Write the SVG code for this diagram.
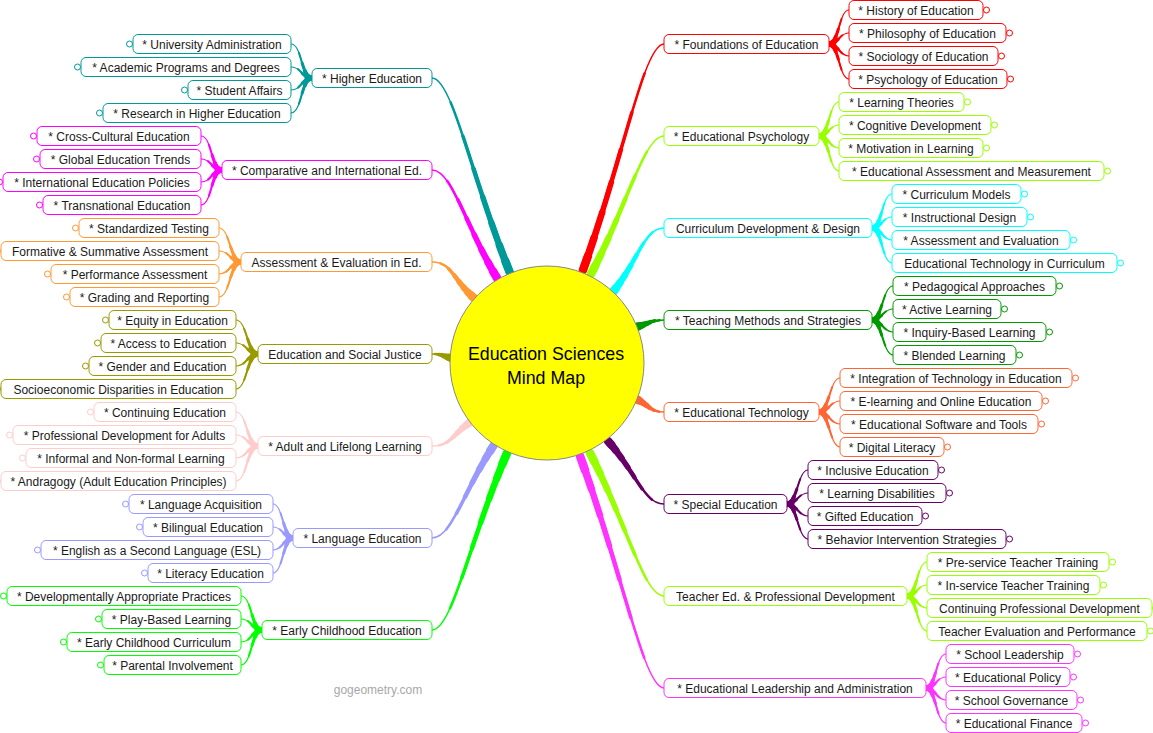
<svg xmlns="http://www.w3.org/2000/svg" width="1153" height="733" viewBox="0 0 1153 733">
<style>
.node rect{fill:#fff;stroke-width:1}
.node circle{fill:#fff;stroke-width:1}
text{font-family:"Liberation Sans",Arial,sans-serif;font-size:12px;fill:#1a1a1a;text-anchor:middle;stroke:none;transform:translateY(1px)}
#connectors use{fill:none;stroke-linecap:round}
.a1{stroke-width:1.5}.a2{stroke-width:2.5;stroke-dasharray:85 300}.a3{stroke-width:3.5;stroke-dasharray:68 300}.a4{stroke-width:4.5;stroke-dasharray:52 300}.a5{stroke-width:5.5;stroke-dasharray:38 300}.a6{stroke-width:6.5;stroke-dasharray:25 300}.a7{stroke-width:7.5;stroke-dasharray:14 300}.a8{stroke-width:8.5;stroke-dasharray:6 300}
.s1{stroke-width:1.2}.s2{stroke-width:2;stroke-dasharray:70 300}.s3{stroke-width:3;stroke-dasharray:45 300}.s4{stroke-width:4;stroke-dasharray:25 300}.s5{stroke-width:5;stroke-dasharray:10 300}
.teal{stroke:#009999}.mag{stroke:#ff00ff}.org{stroke:#ff9933}.olv{stroke:#999900}.pnk{stroke:#ffcccc}.lav{stroke:#9999ff}.grn{stroke:#00ff00}
.red{stroke:#ff0000}.chr{stroke:#99ff00}.cyn{stroke:#00ffff}.dgr{stroke:#009900}.orr{stroke:#ff6633}.pur{stroke:#660066}.lpk{stroke:#ff33ff}
</style>
<defs>
<path id="m1" pathLength="100" d="M583,270C623.5,157 644,44 664,44"/>
<path id="m2" pathLength="100" d="M591,274C627.5,205 644,136 664,136"/>
<path id="m3" pathLength="100" d="M613,292C638.5,260 644,228 664,228"/>
<path id="m4" pathLength="100" d="M636,327C650,323.5 650,320 664,320"/>
<path id="m5" pathLength="100" d="M636,399C650,405.5 650,412 664,412"/>
<path id="m6" pathLength="100" d="M608,441C636,472.5 644,504 664,504"/>
<path id="m7" pathLength="100" d="M590,453C627,524.5 644,596 664,596"/>
<path id="m8" pathLength="100" d="M580,456C622,572 644,688 664,688"/>
<path id="m9" pathLength="100" d="M510,273C471,175.5 452,78 432,78"/>
<path id="m10" pathLength="100" d="M497,278C464.5,224 452,170 432,170"/>
<path id="m11" pathLength="100" d="M474,298C453,280 452,262 432,262"/>
<path id="m12" pathLength="100" d="M452,358C442,356 442,354 432,354"/>
<path id="m13" pathLength="100" d="M472,421C452,433.5 452,446 432,446"/>
<path id="m14" pathLength="100" d="M494,445C463,491.5 452,538 432,538"/>
<path id="m15" pathLength="100" d="M507,453C469.5,541.5 452,630 432,630"/>
<path id="qf1" pathLength="100" d="M829,44C839,44 839,10 849,10"/>
<path id="qf2" pathLength="100" d="M829,44C839,44 839,33 849,33"/>
<path id="qf3" pathLength="100" d="M829,44C839,44 839,56 849,56"/>
<path id="qf4" pathLength="100" d="M829,44C839,44 839,79 849,79"/>
<path id="qp1" pathLength="100" d="M819,136C829,136 829,102 839,102"/>
<path id="qp2" pathLength="100" d="M819,136C829,136 829,125 839,125"/>
<path id="qp3" pathLength="100" d="M819,136C829,136 829,148 839,148"/>
<path id="qp4" pathLength="100" d="M819,136C829,136 829,171 839,171"/>
<path id="qc1" pathLength="100" d="M872,228C882,228 882,194 892,194"/>
<path id="qc2" pathLength="100" d="M872,228C882,228 882,217 892,217"/>
<path id="qc3" pathLength="100" d="M872,228C882,228 882,240 892,240"/>
<path id="qc4" pathLength="100" d="M872,228C882,228 882,263 892,263"/>
<path id="qt1" pathLength="100" d="M872,320C882,320 883,286 893,286"/>
<path id="qt2" pathLength="100" d="M872,320C882,320 883,309 893,309"/>
<path id="qt3" pathLength="100" d="M872,320C882,320 883,332 893,332"/>
<path id="qt4" pathLength="100" d="M872,320C882,320 883,355 893,355"/>
<path id="qe1" pathLength="100" d="M819,412C829,412 830,378 840,378"/>
<path id="qe2" pathLength="100" d="M819,412C829,412 830,401 840,401"/>
<path id="qe3" pathLength="100" d="M819,412C829,412 830,424 840,424"/>
<path id="qe4" pathLength="100" d="M819,412C829,412 830,447 840,447"/>
<path id="qx1" pathLength="100" d="M787,504C797,504 798,470 808,470"/>
<path id="qx2" pathLength="100" d="M787,504C797,504 798,493 808,493"/>
<path id="qx3" pathLength="100" d="M787,504C797,504 798,516 808,516"/>
<path id="qx4" pathLength="100" d="M787,504C797,504 798,539 808,539"/>
<path id="qr1" pathLength="100" d="M907,596C917,596 917,562 927,562"/>
<path id="qr2" pathLength="100" d="M907,596C917,596 917,585 927,585"/>
<path id="qr3" pathLength="100" d="M907,596C917,596 917,608 927,608"/>
<path id="qr4" pathLength="100" d="M907,596C917,596 917,631 927,631"/>
<path id="ql1" pathLength="100" d="M926,688C936,688 936,654 946,654"/>
<path id="ql2" pathLength="100" d="M926,688C936,688 936,677 946,677"/>
<path id="ql3" pathLength="100" d="M926,688C936,688 936,700 946,700"/>
<path id="ql4" pathLength="100" d="M926,688C936,688 936,723 946,723"/>
<path id="qh1" pathLength="100" d="M312,78C301,78 302,44 291,44"/>
<path id="qh2" pathLength="100" d="M312,78C301,78 302,67 291,67"/>
<path id="qh3" pathLength="100" d="M312,78C301,78 302,90 291,90"/>
<path id="qh4" pathLength="100" d="M312,78C301,78 302,113 291,113"/>
<path id="qi1" pathLength="100" d="M222,170C211,170 212,136 201,136"/>
<path id="qi2" pathLength="100" d="M222,170C211,170 212,159 201,159"/>
<path id="qi3" pathLength="100" d="M222,170C211,170 212,182 201,182"/>
<path id="qi4" pathLength="100" d="M222,170C211,170 212,205 201,205"/>
<path id="qa1" pathLength="100" d="M241,262C230,262 230,228 219,228"/>
<path id="qa2" pathLength="100" d="M241,262C230,262 230,251 219,251"/>
<path id="qa3" pathLength="100" d="M241,262C230,262 230,274 219,274"/>
<path id="qa4" pathLength="100" d="M241,262C230,262 230,297 219,297"/>
<path id="qj1" pathLength="100" d="M258,354C247,354 247,320 236,320"/>
<path id="qj2" pathLength="100" d="M258,354C247,354 247,343 236,343"/>
<path id="qj3" pathLength="100" d="M258,354C247,354 247,366 236,366"/>
<path id="qj4" pathLength="100" d="M258,354C247,354 247,389 236,389"/>
<path id="qd1" pathLength="100" d="M258,446C247,446 247,412 236,412"/>
<path id="qd2" pathLength="100" d="M258,446C247,446 247,435 236,435"/>
<path id="qd3" pathLength="100" d="M258,446C247,446 247,458 236,458"/>
<path id="qd4" pathLength="100" d="M258,446C247,446 247,481 236,481"/>
<path id="qg1" pathLength="100" d="M293,538C283,538 283,504 273,504"/>
<path id="qg2" pathLength="100" d="M293,538C283,538 283,527 273,527"/>
<path id="qg3" pathLength="100" d="M293,538C283,538 283,550 273,550"/>
<path id="qg4" pathLength="100" d="M293,538C283,538 283,573 273,573"/>
<path id="qk1" pathLength="100" d="M262,630C251,630 252,596 241,596"/>
<path id="qk2" pathLength="100" d="M262,630C251,630 252,619 241,619"/>
<path id="qk3" pathLength="100" d="M262,630C251,630 252,642 241,642"/>
<path id="qk4" pathLength="100" d="M262,630C251,630 252,665 241,665"/>
</defs>
<rect width="1153" height="733" fill="#fff"/>
<g id="connectors">
<g class="red"><use href="#m1" class="a1"/><use href="#m1" class="a2"/><use href="#m1" class="a3"/><use href="#m1" class="a4"/><use href="#m1" class="a5"/><use href="#m1" class="a6"/><use href="#m1" class="a7"/><use href="#m1" class="a8"/>
<use href="#qf1" class="s1"/><use href="#qf1" class="s2"/><use href="#qf1" class="s3"/><use href="#qf1" class="s4"/><use href="#qf1" class="s5"/>
<use href="#qf2" class="s1"/><use href="#qf2" class="s2"/><use href="#qf2" class="s3"/><use href="#qf2" class="s4"/><use href="#qf2" class="s5"/>
<use href="#qf3" class="s1"/><use href="#qf3" class="s2"/><use href="#qf3" class="s3"/><use href="#qf3" class="s4"/><use href="#qf3" class="s5"/>
<use href="#qf4" class="s1"/><use href="#qf4" class="s2"/><use href="#qf4" class="s3"/><use href="#qf4" class="s4"/><use href="#qf4" class="s5"/></g>
<g class="chr"><use href="#m2" class="a1"/><use href="#m2" class="a2"/><use href="#m2" class="a3"/><use href="#m2" class="a4"/><use href="#m2" class="a5"/><use href="#m2" class="a6"/><use href="#m2" class="a7"/><use href="#m2" class="a8"/>
<use href="#qp1" class="s1"/><use href="#qp1" class="s2"/><use href="#qp1" class="s3"/><use href="#qp1" class="s4"/><use href="#qp1" class="s5"/>
<use href="#qp2" class="s1"/><use href="#qp2" class="s2"/><use href="#qp2" class="s3"/><use href="#qp2" class="s4"/><use href="#qp2" class="s5"/>
<use href="#qp3" class="s1"/><use href="#qp3" class="s2"/><use href="#qp3" class="s3"/><use href="#qp3" class="s4"/><use href="#qp3" class="s5"/>
<use href="#qp4" class="s1"/><use href="#qp4" class="s2"/><use href="#qp4" class="s3"/><use href="#qp4" class="s4"/><use href="#qp4" class="s5"/></g>
<g class="cyn"><use href="#m3" class="a1"/><use href="#m3" class="a2"/><use href="#m3" class="a3"/><use href="#m3" class="a4"/><use href="#m3" class="a5"/><use href="#m3" class="a6"/><use href="#m3" class="a7"/><use href="#m3" class="a8"/>
<use href="#qc1" class="s1"/><use href="#qc1" class="s2"/><use href="#qc1" class="s3"/><use href="#qc1" class="s4"/><use href="#qc1" class="s5"/>
<use href="#qc2" class="s1"/><use href="#qc2" class="s2"/><use href="#qc2" class="s3"/><use href="#qc2" class="s4"/><use href="#qc2" class="s5"/>
<use href="#qc3" class="s1"/><use href="#qc3" class="s2"/><use href="#qc3" class="s3"/><use href="#qc3" class="s4"/><use href="#qc3" class="s5"/>
<use href="#qc4" class="s1"/><use href="#qc4" class="s2"/><use href="#qc4" class="s3"/><use href="#qc4" class="s4"/><use href="#qc4" class="s5"/></g>
<g class="dgr"><use href="#m4" class="a1"/><use href="#m4" class="a2"/><use href="#m4" class="a3"/><use href="#m4" class="a4"/><use href="#m4" class="a5"/><use href="#m4" class="a6"/><use href="#m4" class="a7"/><use href="#m4" class="a8"/>
<use href="#qt1" class="s1"/><use href="#qt1" class="s2"/><use href="#qt1" class="s3"/><use href="#qt1" class="s4"/><use href="#qt1" class="s5"/>
<use href="#qt2" class="s1"/><use href="#qt2" class="s2"/><use href="#qt2" class="s3"/><use href="#qt2" class="s4"/><use href="#qt2" class="s5"/>
<use href="#qt3" class="s1"/><use href="#qt3" class="s2"/><use href="#qt3" class="s3"/><use href="#qt3" class="s4"/><use href="#qt3" class="s5"/>
<use href="#qt4" class="s1"/><use href="#qt4" class="s2"/><use href="#qt4" class="s3"/><use href="#qt4" class="s4"/><use href="#qt4" class="s5"/></g>
<g class="orr"><use href="#m5" class="a1"/><use href="#m5" class="a2"/><use href="#m5" class="a3"/><use href="#m5" class="a4"/><use href="#m5" class="a5"/><use href="#m5" class="a6"/><use href="#m5" class="a7"/><use href="#m5" class="a8"/>
<use href="#qe1" class="s1"/><use href="#qe1" class="s2"/><use href="#qe1" class="s3"/><use href="#qe1" class="s4"/><use href="#qe1" class="s5"/>
<use href="#qe2" class="s1"/><use href="#qe2" class="s2"/><use href="#qe2" class="s3"/><use href="#qe2" class="s4"/><use href="#qe2" class="s5"/>
<use href="#qe3" class="s1"/><use href="#qe3" class="s2"/><use href="#qe3" class="s3"/><use href="#qe3" class="s4"/><use href="#qe3" class="s5"/>
<use href="#qe4" class="s1"/><use href="#qe4" class="s2"/><use href="#qe4" class="s3"/><use href="#qe4" class="s4"/><use href="#qe4" class="s5"/></g>
<g class="pur"><use href="#m6" class="a1"/><use href="#m6" class="a2"/><use href="#m6" class="a3"/><use href="#m6" class="a4"/><use href="#m6" class="a5"/><use href="#m6" class="a6"/><use href="#m6" class="a7"/><use href="#m6" class="a8"/>
<use href="#qx1" class="s1"/><use href="#qx1" class="s2"/><use href="#qx1" class="s3"/><use href="#qx1" class="s4"/><use href="#qx1" class="s5"/>
<use href="#qx2" class="s1"/><use href="#qx2" class="s2"/><use href="#qx2" class="s3"/><use href="#qx2" class="s4"/><use href="#qx2" class="s5"/>
<use href="#qx3" class="s1"/><use href="#qx3" class="s2"/><use href="#qx3" class="s3"/><use href="#qx3" class="s4"/><use href="#qx3" class="s5"/>
<use href="#qx4" class="s1"/><use href="#qx4" class="s2"/><use href="#qx4" class="s3"/><use href="#qx4" class="s4"/><use href="#qx4" class="s5"/></g>
<g class="chr"><use href="#m7" class="a1"/><use href="#m7" class="a2"/><use href="#m7" class="a3"/><use href="#m7" class="a4"/><use href="#m7" class="a5"/><use href="#m7" class="a6"/><use href="#m7" class="a7"/><use href="#m7" class="a8"/>
<use href="#qr1" class="s1"/><use href="#qr1" class="s2"/><use href="#qr1" class="s3"/><use href="#qr1" class="s4"/><use href="#qr1" class="s5"/>
<use href="#qr2" class="s1"/><use href="#qr2" class="s2"/><use href="#qr2" class="s3"/><use href="#qr2" class="s4"/><use href="#qr2" class="s5"/>
<use href="#qr3" class="s1"/><use href="#qr3" class="s2"/><use href="#qr3" class="s3"/><use href="#qr3" class="s4"/><use href="#qr3" class="s5"/>
<use href="#qr4" class="s1"/><use href="#qr4" class="s2"/><use href="#qr4" class="s3"/><use href="#qr4" class="s4"/><use href="#qr4" class="s5"/></g>
<g class="lpk"><use href="#m8" class="a1"/><use href="#m8" class="a2"/><use href="#m8" class="a3"/><use href="#m8" class="a4"/><use href="#m8" class="a5"/><use href="#m8" class="a6"/><use href="#m8" class="a7"/><use href="#m8" class="a8"/>
<use href="#ql1" class="s1"/><use href="#ql1" class="s2"/><use href="#ql1" class="s3"/><use href="#ql1" class="s4"/><use href="#ql1" class="s5"/>
<use href="#ql2" class="s1"/><use href="#ql2" class="s2"/><use href="#ql2" class="s3"/><use href="#ql2" class="s4"/><use href="#ql2" class="s5"/>
<use href="#ql3" class="s1"/><use href="#ql3" class="s2"/><use href="#ql3" class="s3"/><use href="#ql3" class="s4"/><use href="#ql3" class="s5"/>
<use href="#ql4" class="s1"/><use href="#ql4" class="s2"/><use href="#ql4" class="s3"/><use href="#ql4" class="s4"/><use href="#ql4" class="s5"/></g>
<g class="teal"><use href="#m9" class="a1"/><use href="#m9" class="a2"/><use href="#m9" class="a3"/><use href="#m9" class="a4"/><use href="#m9" class="a5"/><use href="#m9" class="a6"/><use href="#m9" class="a7"/><use href="#m9" class="a8"/>
<use href="#qh1" class="s1"/><use href="#qh1" class="s2"/><use href="#qh1" class="s3"/><use href="#qh1" class="s4"/><use href="#qh1" class="s5"/>
<use href="#qh2" class="s1"/><use href="#qh2" class="s2"/><use href="#qh2" class="s3"/><use href="#qh2" class="s4"/><use href="#qh2" class="s5"/>
<use href="#qh3" class="s1"/><use href="#qh3" class="s2"/><use href="#qh3" class="s3"/><use href="#qh3" class="s4"/><use href="#qh3" class="s5"/>
<use href="#qh4" class="s1"/><use href="#qh4" class="s2"/><use href="#qh4" class="s3"/><use href="#qh4" class="s4"/><use href="#qh4" class="s5"/></g>
<g class="mag"><use href="#m10" class="a1"/><use href="#m10" class="a2"/><use href="#m10" class="a3"/><use href="#m10" class="a4"/><use href="#m10" class="a5"/><use href="#m10" class="a6"/><use href="#m10" class="a7"/><use href="#m10" class="a8"/>
<use href="#qi1" class="s1"/><use href="#qi1" class="s2"/><use href="#qi1" class="s3"/><use href="#qi1" class="s4"/><use href="#qi1" class="s5"/>
<use href="#qi2" class="s1"/><use href="#qi2" class="s2"/><use href="#qi2" class="s3"/><use href="#qi2" class="s4"/><use href="#qi2" class="s5"/>
<use href="#qi3" class="s1"/><use href="#qi3" class="s2"/><use href="#qi3" class="s3"/><use href="#qi3" class="s4"/><use href="#qi3" class="s5"/>
<use href="#qi4" class="s1"/><use href="#qi4" class="s2"/><use href="#qi4" class="s3"/><use href="#qi4" class="s4"/><use href="#qi4" class="s5"/></g>
<g class="org"><use href="#m11" class="a1"/><use href="#m11" class="a2"/><use href="#m11" class="a3"/><use href="#m11" class="a4"/><use href="#m11" class="a5"/><use href="#m11" class="a6"/><use href="#m11" class="a7"/><use href="#m11" class="a8"/>
<use href="#qa1" class="s1"/><use href="#qa1" class="s2"/><use href="#qa1" class="s3"/><use href="#qa1" class="s4"/><use href="#qa1" class="s5"/>
<use href="#qa2" class="s1"/><use href="#qa2" class="s2"/><use href="#qa2" class="s3"/><use href="#qa2" class="s4"/><use href="#qa2" class="s5"/>
<use href="#qa3" class="s1"/><use href="#qa3" class="s2"/><use href="#qa3" class="s3"/><use href="#qa3" class="s4"/><use href="#qa3" class="s5"/>
<use href="#qa4" class="s1"/><use href="#qa4" class="s2"/><use href="#qa4" class="s3"/><use href="#qa4" class="s4"/><use href="#qa4" class="s5"/></g>
<g class="olv"><use href="#m12" class="a1"/><use href="#m12" class="a2"/><use href="#m12" class="a3"/><use href="#m12" class="a4"/><use href="#m12" class="a5"/><use href="#m12" class="a6"/><use href="#m12" class="a7"/><use href="#m12" class="a8"/>
<use href="#qj1" class="s1"/><use href="#qj1" class="s2"/><use href="#qj1" class="s3"/><use href="#qj1" class="s4"/><use href="#qj1" class="s5"/>
<use href="#qj2" class="s1"/><use href="#qj2" class="s2"/><use href="#qj2" class="s3"/><use href="#qj2" class="s4"/><use href="#qj2" class="s5"/>
<use href="#qj3" class="s1"/><use href="#qj3" class="s2"/><use href="#qj3" class="s3"/><use href="#qj3" class="s4"/><use href="#qj3" class="s5"/>
<use href="#qj4" class="s1"/><use href="#qj4" class="s2"/><use href="#qj4" class="s3"/><use href="#qj4" class="s4"/><use href="#qj4" class="s5"/></g>
<g class="pnk"><use href="#m13" class="a1"/><use href="#m13" class="a2"/><use href="#m13" class="a3"/><use href="#m13" class="a4"/><use href="#m13" class="a5"/><use href="#m13" class="a6"/><use href="#m13" class="a7"/><use href="#m13" class="a8"/>
<use href="#qd1" class="s1"/><use href="#qd1" class="s2"/><use href="#qd1" class="s3"/><use href="#qd1" class="s4"/><use href="#qd1" class="s5"/>
<use href="#qd2" class="s1"/><use href="#qd2" class="s2"/><use href="#qd2" class="s3"/><use href="#qd2" class="s4"/><use href="#qd2" class="s5"/>
<use href="#qd3" class="s1"/><use href="#qd3" class="s2"/><use href="#qd3" class="s3"/><use href="#qd3" class="s4"/><use href="#qd3" class="s5"/>
<use href="#qd4" class="s1"/><use href="#qd4" class="s2"/><use href="#qd4" class="s3"/><use href="#qd4" class="s4"/><use href="#qd4" class="s5"/></g>
<g class="lav"><use href="#m14" class="a1"/><use href="#m14" class="a2"/><use href="#m14" class="a3"/><use href="#m14" class="a4"/><use href="#m14" class="a5"/><use href="#m14" class="a6"/><use href="#m14" class="a7"/><use href="#m14" class="a8"/>
<use href="#qg1" class="s1"/><use href="#qg1" class="s2"/><use href="#qg1" class="s3"/><use href="#qg1" class="s4"/><use href="#qg1" class="s5"/>
<use href="#qg2" class="s1"/><use href="#qg2" class="s2"/><use href="#qg2" class="s3"/><use href="#qg2" class="s4"/><use href="#qg2" class="s5"/>
<use href="#qg3" class="s1"/><use href="#qg3" class="s2"/><use href="#qg3" class="s3"/><use href="#qg3" class="s4"/><use href="#qg3" class="s5"/>
<use href="#qg4" class="s1"/><use href="#qg4" class="s2"/><use href="#qg4" class="s3"/><use href="#qg4" class="s4"/><use href="#qg4" class="s5"/></g>
<g class="grn"><use href="#m15" class="a1"/><use href="#m15" class="a2"/><use href="#m15" class="a3"/><use href="#m15" class="a4"/><use href="#m15" class="a5"/><use href="#m15" class="a6"/><use href="#m15" class="a7"/><use href="#m15" class="a8"/>
<use href="#qk1" class="s1"/><use href="#qk1" class="s2"/><use href="#qk1" class="s3"/><use href="#qk1" class="s4"/><use href="#qk1" class="s5"/>
<use href="#qk2" class="s1"/><use href="#qk2" class="s2"/><use href="#qk2" class="s3"/><use href="#qk2" class="s4"/><use href="#qk2" class="s5"/>
<use href="#qk3" class="s1"/><use href="#qk3" class="s2"/><use href="#qk3" class="s3"/><use href="#qk3" class="s4"/><use href="#qk3" class="s5"/>
<use href="#qk4" class="s1"/><use href="#qk4" class="s2"/><use href="#qk4" class="s3"/><use href="#qk4" class="s4"/><use href="#qk4" class="s5"/></g>
</g>
<g id="center">
<circle cx="547" cy="363" r="97" fill="#ffff00" stroke="#888" stroke-width="1"/>
<text x="546" y="359" style="font-size:17.8px;fill:#000">Education Sciences</text>
<text x="546" y="383" style="font-size:17.8px;fill:#000">Mind Map</text>
</g>
<g id="n-foundations" class="node red"><rect x="664" y="34.5" width="165" height="19" rx="5"/><text x="746.5" y="48">* Foundations of Education</text></g>
<g id="n-history" class="node red"><rect x="849" y="0.5" width="134" height="19" rx="5"/><circle cx="986.5" cy="10" r="3"/><text x="916" y="14">* History of Education</text></g>
<g id="n-philosophy" class="node red"><rect x="849" y="23.5" width="157" height="19" rx="5"/><circle cx="1009.5" cy="33" r="3"/><text x="927.5" y="37">* Philosophy of Education</text></g>
<g id="n-sociology" class="node red"><rect x="849" y="46.5" width="149" height="19" rx="5"/><circle cx="1001.5" cy="56" r="3"/><text x="923.5" y="60">* Sociology of Education</text></g>
<g id="n-psychology" class="node red"><rect x="849" y="69.5" width="158" height="19" rx="5"/><circle cx="1010.5" cy="79" r="3"/><text x="928" y="83">* Psychology of Education</text></g>
<g id="n-edpsych" class="node chr"><rect x="664" y="126.5" width="155" height="19" rx="5"/><text x="741.5" y="140">* Educational Psychology</text></g>
<g id="n-learning-theories" class="node chr"><rect x="839" y="92.5" width="125" height="19" rx="5"/><circle cx="967.5" cy="102" r="3"/><text x="901.5" y="106">* Learning Theories</text></g>
<g id="n-cognitive" class="node chr"><rect x="839" y="115.5" width="152" height="19" rx="5"/><circle cx="994.5" cy="125" r="3"/><text x="915" y="129">* Cognitive Development</text></g>
<g id="n-motivation" class="node chr"><rect x="839" y="138.5" width="144" height="19" rx="5"/><circle cx="986.5" cy="148" r="3"/><text x="911" y="152">* Motivation in Learning</text></g>
<g id="n-assess-measure" class="node chr"><rect x="839" y="161.5" width="265" height="19" rx="5"/><circle cx="1107.5" cy="171" r="3"/><text x="971.5" y="175">* Educational Assessment and Measurement</text></g>
<g id="n-curriculum" class="node cyn"><rect x="664" y="218.5" width="208" height="19" rx="5"/><text x="768" y="232">Curriculum Development &amp; Design</text></g>
<g id="n-curr-models" class="node cyn"><rect x="892" y="184.5" width="129" height="19" rx="5"/><circle cx="1024.5" cy="194" r="3"/><text x="956.5" y="198">* Curriculum Models</text></g>
<g id="n-instr-design" class="node cyn"><rect x="892" y="207.5" width="135" height="19" rx="5"/><circle cx="1030.5" cy="217" r="3"/><text x="959.5" y="221">* Instructional Design</text></g>
<g id="n-assess-eval" class="node cyn"><rect x="892" y="230.5" width="178" height="19" rx="5"/><circle cx="1073.5" cy="240" r="3"/><text x="981" y="244">* Assessment and Evaluation</text></g>
<g id="n-edtech-curr" class="node cyn"><rect x="892" y="253.5" width="225" height="19" rx="5"/><circle cx="1120.5" cy="263" r="3"/><text x="1004.5" y="267">Educational Technology in Curriculum</text></g>
<g id="n-teaching" class="node dgr"><rect x="664" y="310.5" width="208" height="19" rx="5"/><text x="768" y="324">* Teaching Methods and Strategies</text></g>
<g id="n-pedagogical" class="node dgr"><rect x="893" y="276.5" width="163" height="19" rx="5"/><circle cx="1059.5" cy="286" r="3"/><text x="974.5" y="290">* Pedagogical Approaches</text></g>
<g id="n-active" class="node dgr"><rect x="893" y="299.5" width="108" height="19" rx="5"/><circle cx="1004.5" cy="309" r="3"/><text x="947" y="313">* Active Learning</text></g>
<g id="n-inquiry" class="node dgr"><rect x="893" y="322.5" width="153" height="19" rx="5"/><circle cx="1049.5" cy="332" r="3"/><text x="969.5" y="336">* Inquiry-Based Learning</text></g>
<g id="n-blended" class="node dgr"><rect x="893" y="345.5" width="123" height="19" rx="5"/><circle cx="1019.5" cy="355" r="3"/><text x="954.5" y="359">* Blended Learning</text></g>
<g id="n-edtech" class="node orr"><rect x="664" y="402.5" width="155" height="19" rx="5"/><text x="741.5" y="416">* Educational Technology</text></g>
<g id="n-integration" class="node orr"><rect x="840" y="368.5" width="232" height="19" rx="5"/><circle cx="1075.5" cy="378" r="3"/><text x="956" y="382">* Integration of Technology in Education</text></g>
<g id="n-elearning" class="node orr"><rect x="840" y="391.5" width="202" height="19" rx="5"/><circle cx="1045.5" cy="401" r="3"/><text x="941" y="405">* E-learning and Online Education</text></g>
<g id="n-software" class="node orr"><rect x="840" y="414.5" width="198" height="19" rx="5"/><circle cx="1041.5" cy="424" r="3"/><text x="939" y="428">* Educational Software and Tools</text></g>
<g id="n-digital" class="node orr"><rect x="840" y="437.5" width="104" height="19" rx="5"/><circle cx="947.5" cy="447" r="3"/><text x="892" y="451">* Digital Literacy</text></g>
<g id="n-special" class="node pur"><rect x="664" y="494.5" width="123" height="19" rx="5"/><text x="725.5" y="508">* Special Education</text></g>
<g id="n-inclusive" class="node pur"><rect x="808" y="460.5" width="130" height="19" rx="5"/><circle cx="941.5" cy="470" r="3"/><text x="873" y="474">* Inclusive Education</text></g>
<g id="n-disabilities" class="node pur"><rect x="808" y="483.5" width="138" height="19" rx="5"/><circle cx="949.5" cy="493" r="3"/><text x="877" y="497">* Learning Disabilities</text></g>
<g id="n-gifted" class="node pur"><rect x="808" y="506.5" width="114" height="19" rx="5"/><circle cx="925.5" cy="516" r="3"/><text x="865" y="520">* Gifted Education</text></g>
<g id="n-behavior" class="node pur"><rect x="808" y="529.5" width="198" height="19" rx="5"/><circle cx="1009.5" cy="539" r="3"/><text x="907" y="543">* Behavior Intervention Strategies</text></g>
<g id="n-teacher-ed" class="node chr"><rect x="664" y="586.5" width="243" height="19" rx="5"/><text x="785.5" y="600">Teacher Ed. &amp; Professional Development</text></g>
<g id="n-preservice" class="node chr"><rect x="927" y="552.5" width="182" height="19" rx="5"/><circle cx="1112.5" cy="562" r="3"/><text x="1018" y="566">* Pre-service Teacher Training</text></g>
<g id="n-inservice" class="node chr"><rect x="927" y="575.5" width="173" height="19" rx="5"/><circle cx="1103.5" cy="585" r="3"/><text x="1013.5" y="589">* In-service Teacher Training</text></g>
<g id="n-cpd" class="node chr"><rect x="927" y="598.5" width="225" height="19" rx="5"/><circle cx="1155.5" cy="608" r="3"/><text x="1039.5" y="612">Continuing Professional Development</text></g>
<g id="n-teacher-eval" class="node chr"><rect x="927" y="621.5" width="220" height="19" rx="5"/><circle cx="1150.5" cy="631" r="3"/><text x="1037" y="635">Teacher Evaluation and Performance</text></g>
<g id="n-leadership" class="node lpk"><rect x="664" y="678.5" width="262" height="19" rx="5"/><text x="795" y="692">* Educational Leadership and Administration</text></g>
<g id="n-school-lead" class="node lpk"><rect x="946" y="644.5" width="128" height="19" rx="5"/><circle cx="1077.5" cy="654" r="3"/><text x="1010" y="658">* School Leadership</text></g>
<g id="n-policy" class="node lpk"><rect x="946" y="667.5" width="124" height="19" rx="5"/><circle cx="1073.5" cy="677" r="3"/><text x="1008" y="681">* Educational Policy</text></g>
<g id="n-governance" class="node lpk"><rect x="946" y="690.5" width="131" height="19" rx="5"/><circle cx="1080.5" cy="700" r="3"/><text x="1011.5" y="704">* School Governance</text></g>
<g id="n-finance" class="node lpk"><rect x="946" y="713.5" width="136" height="19" rx="5"/><circle cx="1085.5" cy="723" r="3"/><text x="1014" y="727">* Educational Finance</text></g>
<g id="n-higher" class="node teal"><rect x="312" y="68.5" width="120" height="19" rx="5"/><text x="372" y="82">* Higher Education</text></g>
<g id="n-univ-admin" class="node teal"><rect x="133" y="34.5" width="158" height="19" rx="5"/><circle cx="129.5" cy="44" r="3"/><text x="212" y="48">* University Administration</text></g>
<g id="n-academic" class="node teal"><rect x="81" y="57.5" width="210" height="19" rx="5"/><circle cx="77.5" cy="67" r="3"/><text x="186" y="71">* Academic Programs and Degrees</text></g>
<g id="n-student" class="node teal"><rect x="188" y="80.5" width="103" height="19" rx="5"/><circle cx="184.5" cy="90" r="3"/><text x="239.5" y="94">* Student Affairs</text></g>
<g id="n-research" class="node teal"><rect x="103" y="103.5" width="188" height="19" rx="5"/><circle cx="99.5" cy="113" r="3"/><text x="197" y="117">* Research in Higher Education</text></g>
<g id="n-comparative" class="node mag"><rect x="222" y="160.5" width="210" height="19" rx="5"/><text x="327" y="174">* Comparative and International Ed.</text></g>
<g id="n-crosscultural" class="node mag"><rect x="37" y="126.5" width="164" height="19" rx="5"/><circle cx="33.5" cy="136" r="3"/><text x="119" y="140">* Cross-Cultural Education</text></g>
<g id="n-global" class="node mag"><rect x="40" y="149.5" width="161" height="19" rx="5"/><circle cx="36.5" cy="159" r="3"/><text x="120.5" y="163">* Global Education Trends</text></g>
<g id="n-intl-policies" class="node mag"><rect x="3" y="172.5" width="198" height="19" rx="5"/><circle cx="-0.5" cy="182" r="3"/><text x="102" y="186">* International Education Policies</text></g>
<g id="n-transnational" class="node mag"><rect x="43" y="195.5" width="158" height="19" rx="5"/><circle cx="39.5" cy="205" r="3"/><text x="122" y="209">* Transnational Education</text></g>
<g id="n-assessment" class="node org"><rect x="241" y="252.5" width="191" height="19" rx="5"/><text x="336.5" y="266">Assessment &amp; Evaluation in Ed.</text></g>
<g id="n-standardized" class="node org"><rect x="79" y="218.5" width="140" height="19" rx="5"/><circle cx="75.5" cy="228" r="3"/><text x="149" y="232">* Standardized Testing</text></g>
<g id="n-formative" class="node org"><rect x="1" y="241.5" width="218" height="19" rx="5"/><circle cx="-2.5" cy="251" r="3"/><text x="110" y="255">Formative &amp; Summative Assessment</text></g>
<g id="n-performance" class="node org"><rect x="51" y="264.5" width="168" height="19" rx="5"/><circle cx="47.5" cy="274" r="3"/><text x="135" y="278">* Performance Assessment</text></g>
<g id="n-grading" class="node org"><rect x="70" y="287.5" width="149" height="19" rx="5"/><circle cx="66.5" cy="297" r="3"/><text x="144.5" y="301">* Grading and Reporting</text></g>
<g id="n-social-justice" class="node olv"><rect x="258" y="344.5" width="174" height="19" rx="5"/><text x="345" y="358">Education and Social Justice</text></g>
<g id="n-equity" class="node olv"><rect x="109" y="310.5" width="127" height="19" rx="5"/><circle cx="105.5" cy="320" r="3"/><text x="172.5" y="324">* Equity in Education</text></g>
<g id="n-access" class="node olv"><rect x="101" y="333.5" width="135" height="19" rx="5"/><circle cx="97.5" cy="343" r="3"/><text x="168.5" y="347">* Access to Education</text></g>
<g id="n-gender" class="node olv"><rect x="89" y="356.5" width="147" height="19" rx="5"/><circle cx="85.5" cy="366" r="3"/><text x="162.5" y="370">* Gender and Education</text></g>
<g id="n-socioeconomic" class="node olv"><rect x="1" y="379.5" width="235" height="19" rx="5"/><circle cx="-2.5" cy="389" r="3"/><text x="118.5" y="393">Socioeconomic Disparities in Education</text></g>
<g id="n-adult" class="node pnk"><rect x="258" y="436.5" width="174" height="19" rx="5"/><text x="345" y="450">* Adult and Lifelong Learning</text></g>
<g id="n-continuing" class="node pnk"><rect x="94" y="402.5" width="142" height="19" rx="5"/><circle cx="90.5" cy="412" r="3"/><text x="165" y="416">* Continuing Education</text></g>
<g id="n-prof-dev-adults" class="node pnk"><rect x="13" y="425.5" width="223" height="19" rx="5"/><circle cx="9.5" cy="435" r="3"/><text x="124.5" y="439">* Professional Development for Adults</text></g>
<g id="n-informal" class="node pnk"><rect x="26" y="448.5" width="210" height="19" rx="5"/><circle cx="22.5" cy="458" r="3"/><text x="131" y="462">* Informal and Non-formal Learning</text></g>
<g id="n-andragogy" class="node pnk"><rect x="1" y="471.5" width="235" height="19" rx="5"/><circle cx="-2.5" cy="481" r="3"/><text x="118.5" y="485">* Andragogy (Adult Education Principles)</text></g>
<g id="n-language" class="node lav"><rect x="293" y="528.5" width="139" height="19" rx="5"/><text x="362.5" y="542">* Language Education</text></g>
<g id="n-lang-acq" class="node lav"><rect x="129" y="494.5" width="144" height="19" rx="5"/><circle cx="125.5" cy="504" r="3"/><text x="201" y="508">* Language Acquisition</text></g>
<g id="n-bilingual" class="node lav"><rect x="143" y="517.5" width="130" height="19" rx="5"/><circle cx="139.5" cy="527" r="3"/><text x="208" y="531">* Bilingual Education</text></g>
<g id="n-esl" class="node lav"><rect x="41" y="540.5" width="232" height="19" rx="5"/><circle cx="37.5" cy="550" r="3"/><text x="157" y="554">* English as a Second Language (ESL)</text></g>
<g id="n-literacy" class="node lav"><rect x="148" y="563.5" width="125" height="19" rx="5"/><circle cx="144.5" cy="573" r="3"/><text x="210.5" y="577">* Literacy Education</text></g>
<g id="n-early" class="node grn"><rect x="262" y="620.5" width="170" height="19" rx="5"/><text x="347" y="634">* Early Childhood Education</text></g>
<g id="n-dap" class="node grn"><rect x="7" y="586.5" width="234" height="19" rx="5"/><circle cx="3.5" cy="596" r="3"/><text x="124" y="600">* Developmentally Appropriate Practices</text></g>
<g id="n-play" class="node grn"><rect x="102" y="609.5" width="139" height="19" rx="5"/><circle cx="98.5" cy="619" r="3"/><text x="171.5" y="623">* Play-Based Learning</text></g>
<g id="n-ec-curriculum" class="node grn"><rect x="67" y="632.5" width="174" height="19" rx="5"/><circle cx="63.5" cy="642" r="3"/><text x="154" y="646">* Early Childhood Curriculum</text></g>
<g id="n-parental" class="node grn"><rect x="104" y="655.5" width="137" height="19" rx="5"/><circle cx="100.5" cy="665" r="3"/><text x="172.5" y="669">* Parental Involvement</text></g>
<text x="378" y="693" style="fill:#a8a8a8">gogeometry.com</text>
</svg>
